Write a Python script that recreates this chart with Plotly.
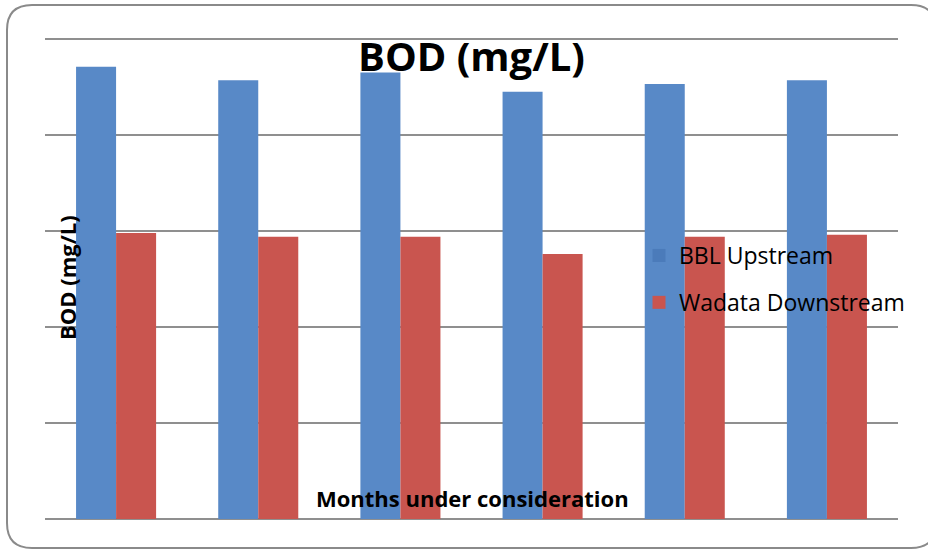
import plotly.graph_objects as go

months = ["Month 1", "Month 2", "Month 3", "Month 4", "Month 5", "Month 6"]
bbl_upstream = [47.1, 45.7, 46.5, 44.5, 45.3, 45.7]
wadata_downstream = [29.8, 29.4, 29.4, 27.6, 29.4, 29.6]
series_names = ["BBL Upstream", "Wadata Downstream"]

W, H = 928, 552
L, R, T, B = 45, 30, 37, 33
pw, ph = W - L - R, H - T - B
ymax = 50 * ph / 480.0  # keeps the 50-line 2px below the plot top

def px2paper(x, y):
    return (x - L) / pw, (H - B - y) / ph

fig = go.Figure()
fig.add_trace(go.Bar(x=months, y=bbl_upstream, name=series_names[0], showlegend=False,
                     marker=dict(color="#5889C7", line=dict(width=0)), legendgroup="a"))
fig.add_trace(go.Bar(x=months, y=wadata_downstream, name=series_names[1], showlegend=False,
                     marker=dict(color="#C9554F", line=dict(width=0)), legendgroup="b"))
# legend keys (slightly darker blue square, as in the original)
fig.add_trace(go.Scatter(x=[None], y=[None], mode="markers", name=series_names[0], legendgroup="a",
                         marker=dict(symbol="square", size=13, color="#4B7BBA")))
fig.add_trace(go.Scatter(x=[None], y=[None], mode="markers", name=series_names[1], legendgroup="b",
                         marker=dict(symbol="square", size=13, color="#C9554F")))

# rounded border
x0, y0, x1, y1, r = 7, 5, 936, 548, 25
def P(x, y):
    a, b = px2paper(x, y)
    return f"{a:.5f},{b:.5f}"
path = (f"M {P(x0 + r, y0)} L {P(x1 - r, y0)} Q {P(x1, y0)} {P(x1, y0 + r)} "
        f"L {P(x1, y1 - r)} Q {P(x1, y1)} {P(x1 - r, y1)} "
        f"L {P(x0 + r, y1)} Q {P(x0, y1)} {P(x0, y1 - r)} "
        f"L {P(x0, y0 + r)} Q {P(x0, y0)} {P(x0 + r, y0)} Z")
fig.add_shape(type="path", path=path, xref="paper", yref="paper",
              line=dict(color="#8a8a8a", width=2), layer="below")

font = "Open Sans"
tx, ty = px2paper(471, 56)
fig.add_annotation(text="<b>BOD (mg/L)</b>", x=tx, y=ty, xref="paper", yref="paper",
                   xanchor="center", yanchor="middle",
                   showarrow=False, font=dict(family=font, size=40, color="black"))
ax, ay = px2paper(472, 498)
fig.add_annotation(text="<b>Months under consideration</b>", x=ax, y=ay, xref="paper", yref="paper",
                   xanchor="center", yanchor="middle",
                   showarrow=False, font=dict(family=font, size=22, color="black"))
yx, yy = px2paper(67, 278)
fig.add_annotation(text="<b>BOD (mg/L)</b>", x=yx, y=yy, xref="paper", yref="paper",
                   xanchor="center", yanchor="middle",
                   showarrow=False, textangle=-90, font=dict(family=font, size=22, color="black"))

lx, ly = px2paper(639, 234)
fig.update_layout(
    width=W, height=H,
    margin=dict(l=L, r=R, t=T, b=B),
    paper_bgcolor="white", plot_bgcolor="white",
    barmode="group", bargap=0.437, bargroupgap=0,
    showlegend=True,
    legend=dict(x=lx, y=ly, xanchor="left", yanchor="top", bgcolor="rgba(0,0,0,0)",
                font=dict(family=font, size=23, color="black"), tracegroupgap=14,
                itemwidth=30, itemsizing="trace"),
    xaxis=dict(showticklabels=False, showgrid=False, zeroline=False, showline=False, ticks=""),
    yaxis=dict(range=[0, ymax], tickvals=[10, 20, 30, 40, 50], showticklabels=False, showgrid=True,
               gridcolor="#8f8f8f", gridwidth=2, zeroline=True, zerolinecolor="#8f8f8f",
               zerolinewidth=2, showline=False, ticks=""),
)
fig.write_html("out.html", config={"displayModeBar": False},
               post_script="document.body.style.margin='0px';")
